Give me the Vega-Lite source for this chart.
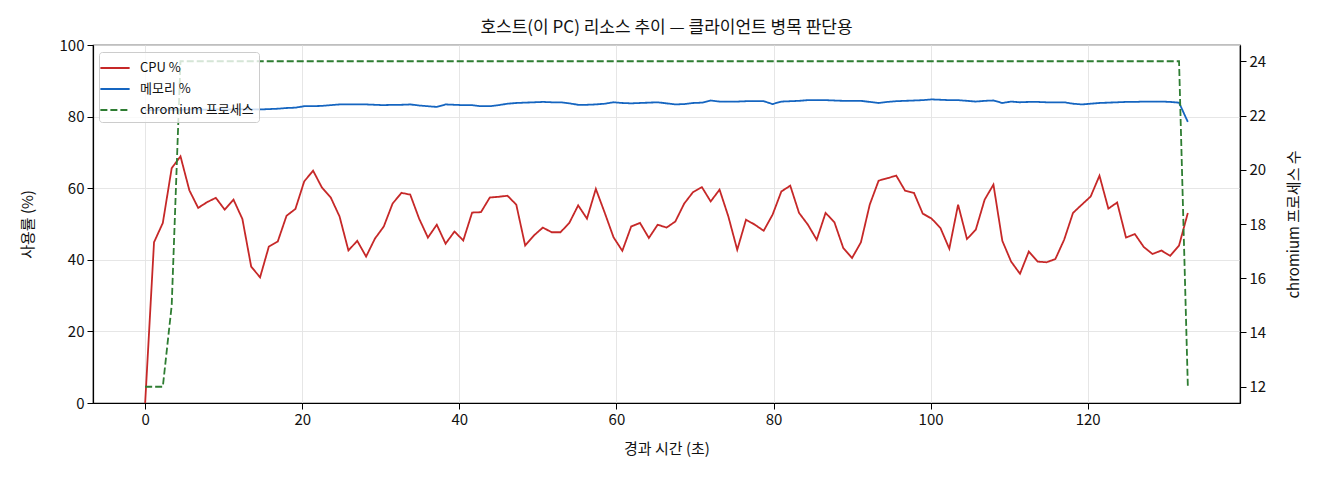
{
  "$schema": "https://vega.github.io/schema/vega-lite/v6.json",
  "width": 1147,
  "height": 358,
  "autosize": "none",
  "padding": {"left": 93, "top": 45, "right": 80, "bottom": 77},
  "background": "white",
  "title": {
    "text": "호스트(이 PC) 리소스 추이 — 클라이언트 병목 판단용",
    "font": "Noto Sans CJK KR",
    "fontSize": 17,
    "fontWeight": "normal",
    "color": "#111",
    "anchor": "middle",
    "offset": 1
  },
  "data": {
    "values": [
      {"t": 0.0, "cpu": 0.0, "mem": 81.8, "proc": 12},
      {"t": 1.13, "cpu": 44.9, "mem": 81.8, "proc": 12},
      {"t": 2.25, "cpu": 50.3, "mem": 81.9, "proc": 12},
      {"t": 3.38, "cpu": 65.6, "mem": 81.9, "proc": 15},
      {"t": 4.5, "cpu": 68.9, "mem": 81.9, "proc": 24},
      {"t": 5.63, "cpu": 59.4, "mem": 82.0, "proc": 24},
      {"t": 6.75, "cpu": 54.5, "mem": 82.0, "proc": 24},
      {"t": 7.88, "cpu": 56.1, "mem": 81.9, "proc": 24},
      {"t": 9.0, "cpu": 57.3, "mem": 82.0, "proc": 24},
      {"t": 10.13, "cpu": 54.0, "mem": 82.0, "proc": 24},
      {"t": 11.25, "cpu": 56.8, "mem": 82.0, "proc": 24},
      {"t": 12.38, "cpu": 51.4, "mem": 82.1, "proc": 24},
      {"t": 13.5, "cpu": 38.1, "mem": 82.0, "proc": 24},
      {"t": 14.63, "cpu": 35.1, "mem": 82.0, "proc": 24},
      {"t": 15.75, "cpu": 43.7, "mem": 82.1, "proc": 24},
      {"t": 16.88, "cpu": 45.1, "mem": 82.2, "proc": 24},
      {"t": 18.0, "cpu": 52.3, "mem": 82.4, "proc": 24},
      {"t": 19.13, "cpu": 54.2, "mem": 82.5, "proc": 24},
      {"t": 20.25, "cpu": 61.9, "mem": 82.9, "proc": 24},
      {"t": 21.38, "cpu": 64.9, "mem": 82.9, "proc": 24},
      {"t": 22.5, "cpu": 60.2, "mem": 83.0, "proc": 24},
      {"t": 23.63, "cpu": 57.4, "mem": 83.2, "proc": 24},
      {"t": 24.75, "cpu": 52.1, "mem": 83.4, "proc": 24},
      {"t": 25.88, "cpu": 42.6, "mem": 83.4, "proc": 24},
      {"t": 27.0, "cpu": 45.3, "mem": 83.4, "proc": 24},
      {"t": 28.13, "cpu": 40.9, "mem": 83.4, "proc": 24},
      {"t": 29.25, "cpu": 45.9, "mem": 83.3, "proc": 24},
      {"t": 30.38, "cpu": 49.3, "mem": 83.2, "proc": 24},
      {"t": 31.5, "cpu": 55.7, "mem": 83.3, "proc": 24},
      {"t": 32.63, "cpu": 58.7, "mem": 83.3, "proc": 24},
      {"t": 33.75, "cpu": 58.2, "mem": 83.4, "proc": 24},
      {"t": 34.88, "cpu": 51.5, "mem": 83.1, "proc": 24},
      {"t": 36.0, "cpu": 46.2, "mem": 82.9, "proc": 24},
      {"t": 37.13, "cpu": 49.8, "mem": 82.7, "proc": 24},
      {"t": 38.25, "cpu": 44.5, "mem": 83.4, "proc": 24},
      {"t": 39.38, "cpu": 47.9, "mem": 83.3, "proc": 24},
      {"t": 40.5, "cpu": 45.4, "mem": 83.2, "proc": 24},
      {"t": 41.63, "cpu": 53.2, "mem": 83.2, "proc": 24},
      {"t": 42.75, "cpu": 53.3, "mem": 82.9, "proc": 24},
      {"t": 43.88, "cpu": 57.4, "mem": 82.9, "proc": 24},
      {"t": 45.0, "cpu": 57.6, "mem": 83.2, "proc": 24},
      {"t": 46.13, "cpu": 57.9, "mem": 83.6, "proc": 24},
      {"t": 47.25, "cpu": 55.4, "mem": 83.8, "proc": 24},
      {"t": 48.38, "cpu": 44.0, "mem": 83.9, "proc": 24},
      {"t": 49.5, "cpu": 46.8, "mem": 84.0, "proc": 24},
      {"t": 50.63, "cpu": 49.0, "mem": 84.1, "proc": 24},
      {"t": 51.75, "cpu": 47.7, "mem": 84.0, "proc": 24},
      {"t": 52.88, "cpu": 47.7, "mem": 84.0, "proc": 24},
      {"t": 54.0, "cpu": 50.3, "mem": 83.7, "proc": 24},
      {"t": 55.13, "cpu": 55.2, "mem": 83.3, "proc": 24},
      {"t": 56.25, "cpu": 51.5, "mem": 83.3, "proc": 24},
      {"t": 57.38, "cpu": 59.8, "mem": 83.4, "proc": 24},
      {"t": 58.5, "cpu": 53.2, "mem": 83.6, "proc": 24},
      {"t": 59.63, "cpu": 46.3, "mem": 84.0, "proc": 24},
      {"t": 60.75, "cpu": 42.5, "mem": 83.8, "proc": 24},
      {"t": 61.88, "cpu": 49.3, "mem": 83.7, "proc": 24},
      {"t": 63.0, "cpu": 50.3, "mem": 83.8, "proc": 24},
      {"t": 64.13, "cpu": 46.1, "mem": 83.9, "proc": 24},
      {"t": 65.25, "cpu": 49.8, "mem": 84.0, "proc": 24},
      {"t": 66.38, "cpu": 49.0, "mem": 83.7, "proc": 24},
      {"t": 67.5, "cpu": 50.7, "mem": 83.4, "proc": 24},
      {"t": 68.63, "cpu": 55.7, "mem": 83.5, "proc": 24},
      {"t": 69.75, "cpu": 58.9, "mem": 83.8, "proc": 24},
      {"t": 70.88, "cpu": 60.3, "mem": 83.9, "proc": 24},
      {"t": 72.0, "cpu": 56.3, "mem": 84.5, "proc": 24},
      {"t": 73.13, "cpu": 59.6, "mem": 84.2, "proc": 24},
      {"t": 74.25, "cpu": 52.1, "mem": 84.2, "proc": 24},
      {"t": 75.38, "cpu": 42.8, "mem": 84.2, "proc": 24},
      {"t": 76.5, "cpu": 51.2, "mem": 84.3, "proc": 24},
      {"t": 77.63, "cpu": 49.8, "mem": 84.3, "proc": 24},
      {"t": 78.75, "cpu": 48.1, "mem": 84.3, "proc": 24},
      {"t": 79.88, "cpu": 52.6, "mem": 83.5, "proc": 24},
      {"t": 81.0, "cpu": 59.1, "mem": 84.2, "proc": 24},
      {"t": 82.13, "cpu": 60.7, "mem": 84.3, "proc": 24},
      {"t": 83.25, "cpu": 53.1, "mem": 84.4, "proc": 24},
      {"t": 84.38, "cpu": 49.8, "mem": 84.6, "proc": 24},
      {"t": 85.5, "cpu": 45.6, "mem": 84.6, "proc": 24},
      {"t": 86.63, "cpu": 53.1, "mem": 84.6, "proc": 24},
      {"t": 87.75, "cpu": 50.5, "mem": 84.5, "proc": 24},
      {"t": 88.88, "cpu": 43.3, "mem": 84.4, "proc": 24},
      {"t": 90.0, "cpu": 40.5, "mem": 84.4, "proc": 24},
      {"t": 91.13, "cpu": 44.9, "mem": 84.4, "proc": 24},
      {"t": 92.25, "cpu": 55.4, "mem": 84.1, "proc": 24},
      {"t": 93.38, "cpu": 62.1, "mem": 83.8, "proc": 24},
      {"t": 94.5, "cpu": 62.8, "mem": 84.1, "proc": 24},
      {"t": 95.63, "cpu": 63.5, "mem": 84.3, "proc": 24},
      {"t": 96.75, "cpu": 59.3, "mem": 84.4, "proc": 24},
      {"t": 97.88, "cpu": 58.7, "mem": 84.5, "proc": 24},
      {"t": 99.0, "cpu": 52.9, "mem": 84.6, "proc": 24},
      {"t": 100.13, "cpu": 51.5, "mem": 84.8, "proc": 24},
      {"t": 101.25, "cpu": 48.9, "mem": 84.7, "proc": 24},
      {"t": 102.38, "cpu": 43.1, "mem": 84.6, "proc": 24},
      {"t": 103.5, "cpu": 55.4, "mem": 84.6, "proc": 24},
      {"t": 104.63, "cpu": 45.8, "mem": 84.4, "proc": 24},
      {"t": 105.75, "cpu": 48.4, "mem": 84.2, "proc": 24},
      {"t": 106.88, "cpu": 56.8, "mem": 84.4, "proc": 24},
      {"t": 108.0, "cpu": 61.0, "mem": 84.5, "proc": 24},
      {"t": 109.13, "cpu": 45.3, "mem": 83.8, "proc": 24},
      {"t": 110.25, "cpu": 39.5, "mem": 84.2, "proc": 24},
      {"t": 111.38, "cpu": 36.1, "mem": 84.0, "proc": 24},
      {"t": 112.5, "cpu": 42.3, "mem": 84.1, "proc": 24},
      {"t": 113.63, "cpu": 39.5, "mem": 84.1, "proc": 24},
      {"t": 114.75, "cpu": 39.3, "mem": 84.0, "proc": 24},
      {"t": 115.88, "cpu": 40.2, "mem": 84.0, "proc": 24},
      {"t": 117.0, "cpu": 45.6, "mem": 84.0, "proc": 24},
      {"t": 118.13, "cpu": 53.1, "mem": 83.6, "proc": 24},
      {"t": 119.25, "cpu": 55.4, "mem": 83.4, "proc": 24},
      {"t": 120.38, "cpu": 57.7, "mem": 83.6, "proc": 24},
      {"t": 121.5, "cpu": 63.5, "mem": 83.8, "proc": 24},
      {"t": 122.63, "cpu": 54.3, "mem": 83.9, "proc": 24},
      {"t": 123.75, "cpu": 56.0, "mem": 84.0, "proc": 24},
      {"t": 124.88, "cpu": 46.2, "mem": 84.1, "proc": 24},
      {"t": 126.0, "cpu": 47.2, "mem": 84.1, "proc": 24},
      {"t": 127.13, "cpu": 43.6, "mem": 84.2, "proc": 24},
      {"t": 128.25, "cpu": 41.6, "mem": 84.2, "proc": 24},
      {"t": 129.38, "cpu": 42.6, "mem": 84.2, "proc": 24},
      {"t": 130.5, "cpu": 41.1, "mem": 84.1, "proc": 24},
      {"t": 131.63, "cpu": 44.0, "mem": 83.9, "proc": 24},
      {"t": 132.75, "cpu": 53.1, "mem": 78.5, "proc": 12}
    ]
  },
  "encoding": {
    "x": {
      "field": "t",
      "type": "quantitative",
      "title": "경과 시간 (초)",
      "scale": {"domain": [-6.64, 139.39], "nice": false, "zero": false},
      "axis": {"values": [0, 20, 40, 60, 80, 100, 120], "grid": true, "titlePadding": 14}
    },
    "color": {
      "field": "k",
      "type": "nominal",
      "scale": {"domain": ["cpu", "mem", "proc"], "range": ["#c62828", "#1565c0", "#2e7d32"]},
      "legend": {
        "labelExpr": "datum.value == 'cpu' ? 'CPU %' : datum.value == 'mem' ? '메모리 %' : 'chromium 프로세스'"
      }
    },
    "strokeDash": {
      "field": "k",
      "type": "nominal",
      "scale": {"domain": ["cpu", "mem", "proc"], "range": [[1, 0], [1, 0], [7, 3]]},
      "legend": {
        "labelExpr": "datum.value == 'cpu' ? 'CPU %' : datum.value == 'mem' ? '메모리 %' : 'chromium 프로세스'"
      }
    }
  },
  "layer": [
    {
      "transform": [{"fold": ["cpu", "mem"], "as": ["k", "v"]}],
      "mark": {"type": "line", "strokeWidth": 1.8},
      "encoding": {
        "y": {
          "field": "v",
          "type": "quantitative",
          "title": "사용률 (%)",
          "scale": {"domain": [0, 100], "nice": false},
          "axis": {"values": [0, 20, 40, 60, 80, 100], "grid": true, "titlePadding": 24}
        }
      }
    },
    {
      "transform": [{"fold": ["proc"], "as": ["k", "v"]}],
      "mark": {"type": "line", "strokeWidth": 1.8},
      "encoding": {
        "y": {
          "field": "v",
          "type": "quantitative",
          "title": "chromium 프로세스 수",
          "scale": {"domain": [11.4, 24.6], "nice": false, "zero": false},
          "axis": {"orient": "right", "values": [12, 14, 16, 18, 20, 22, 24], "grid": false, "titlePadding": 36, "titleAngle": 270}
        }
      }
    }
  ],
  "resolve": {"scale": {"y": "independent"}},
  "config": {
    "view": {"stroke": "#000", "strokeWidth": 1.2},
    "font": "Noto Sans CJK KR",
    "axis": {
      "labelFont": "Noto Sans CJK KR",
      "labelFontSize": 15,
      "labelColor": "#111",
      "titleFont": "Noto Sans CJK KR",
      "titleFontSize": 15,
      "titleFontWeight": "normal",
      "titleColor": "#111",
      "domainColor": "#000",
      "domainWidth": 1.2,
      "tickColor": "#000",
      "tickSize": 6,
      "tickWidth": 1,
      "labelPadding": 3,
      "gridColor": "#e3e3e3",
      "gridWidth": 0.9
    },
    "legend": {
      "orient": "none",
      "legendX": 6,
      "legendY": 7,
      "title": null,
      "labelFont": "Noto Sans CJK KR",
      "labelFontSize": 13,
      "labelColor": "#111",
      "symbolType": "M-1.5,0H1.5",
      "symbolStrokeWidth": 1.8,
      "symbolSize": 380,
      "labelOffset": 14,
      "rowPadding": 3,
      "padding": 5,
      "fillColor": "rgba(255,255,255,0.8)",
      "strokeColor": "#cccccc",
      "cornerRadius": 3
    }
  }
}
